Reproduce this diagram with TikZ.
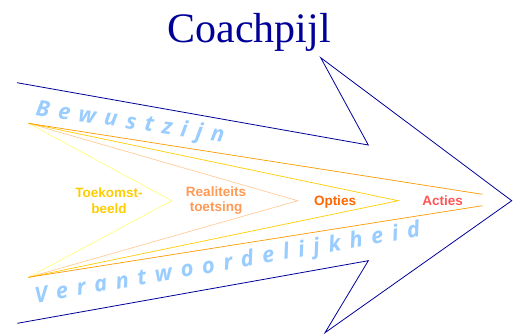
\documentclass[tikz,border=0pt]{standalone}
\usepackage{fontspec}
\setmainfont{Liberation Serif}
\setsansfont{Liberation Sans}
\newfontfamily\spacedfontA{Open Sans}[LetterSpace=39.5]
\newfontfamily\spacedfontB{Open Sans}[LetterSpace=40]
\definecolor{navy}{HTML}{000099}
\definecolor{paleyellow}{HTML}{FFFF80}
\definecolor{peach}{HTML}{FFCC99}
\definecolor{gold}{HTML}{FFCC00}
\definecolor{orangeline}{HTML}{FF9900}
\definecolor{skyblue}{HTML}{99CCFF}
\definecolor{txtgold}{HTML}{FFCC00}
\definecolor{txtpeach}{HTML}{FF9955}
\definecolor{txtorange}{HTML}{FF6600}
\definecolor{txtred}{HTML}{FF5555}
\tikzset{
  outline/.style={draw=navy, line width=0.8pt, line join=miter},
  chev/.style={line width=0.7pt},
  stagelabel/.style={font=\sffamily\bfseries\fontsize{13.5}{15.7}\selectfont, align=center, inner sep=0pt},
  bandtext/.style={text=skyblue, inner sep=0pt, anchor=base west},
}
\begin{document}
\begin{tikzpicture}[x=1pt,y=-1pt]
\useasboundingbox (0,0) rectangle (518,333);
% title
\node[font=\fontsize{42}{48}\selectfont, text=navy, anchor=base, inner sep=0pt] (title) at (249,42) {Coachpijl};
% arrow outline
\coordinate (o1) at (17,82.7);
\coordinate (o2) at (368.3,145);
\coordinate (o3) at (320.7,57.7);
\coordinate (o4) at (511.7,200.7);
\coordinate (o5) at (325,332.7);
\coordinate (o6) at (368.3,260.7);
\coordinate (o7) at (17.3,323.3);
\draw[outline] (o1) -- (o2) -- (o3) -- (o4) -- (o5) -- (o6) -- (o7);
% apexes
\coordinate (ta) at (28.5,123.3);
\coordinate (ba) at (28.5,277.3);
\coordinate (c1) at (171.7,200.7);
\coordinate (c2) at (297.7,200.7);
\coordinate (c3) at (398.3,200.7);
\coordinate (c4t) at (482.3,194.3);
\coordinate (c4b) at (482.3,205.7);
\draw[chev, paleyellow] (ta) -- (c1) -- (ba);
\draw[chev, peach] (ta) -- (c2) -- (ba);
\draw[chev, gold] (ta) -- (c3) -- (ba);
\draw[chev, orangeline] (ta) -- (c4t);
\draw[chev, orangeline] (ba) -- (c4b);
% stage labels
\node[stagelabel, text=txtgold] (toek) at (109,200.5) {Toekomst-\\beeld};
\node[stagelabel, text=txtpeach] (real) at (216,200.5) {Realiteits\\toetsing};
\node[stagelabel, text=txtorange, anchor=base] (opt) at (335,205.3) {Opties};
\node[stagelabel, text=txtred, anchor=base] (act) at (442.7,205.3) {Acties};
% band texts
\node[bandtext, font=\spacedfontA\bfseries\itshape\fontsize{22}{26}\selectfont, rotate=-8.3] (bew) at (35,115) {Bewustzijn};
\node[bandtext, font=\spacedfontB\bfseries\itshape\fontsize{22}{26}\selectfont, rotate=9.9] (ver) at (36,303.3) {Verantwoordelijkheid};
\end{tikzpicture}
\end{document}
